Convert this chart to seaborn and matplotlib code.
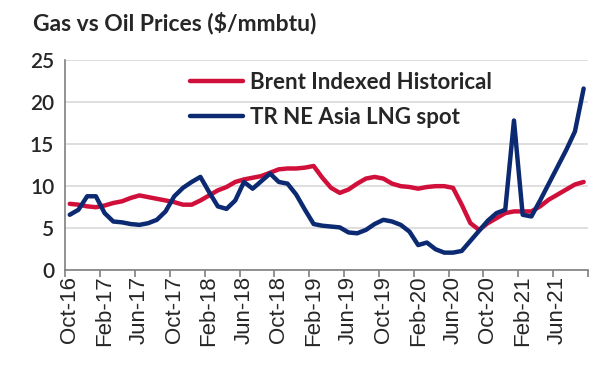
import matplotlib
matplotlib.use("Agg")
import matplotlib.pyplot as plt
import pandas as pd
import seaborn as sns

# monthly values, Oct-16 .. Sep-21
months = pd.date_range("2016-10-01", periods=60, freq="MS")
brent = [7.9, 7.8, 7.6, 7.5, 7.7, 8.0, 8.2, 8.6, 8.9, 8.7, 8.5, 8.3,
         8.1, 7.8, 7.8, 8.3, 8.9, 9.5, 9.9, 10.5, 10.8, 11.0, 11.2, 11.6,
         12.0, 12.1, 12.1, 12.2, 12.4, 11.0, 9.8, 9.2, 9.6, 10.3, 10.9, 11.1,
         10.9, 10.3, 10.0, 9.9, 9.7, 9.9, 10.0, 10.0, 9.8, 7.8, 5.6, 4.8,
         5.6, 6.2, 6.8, 7.0, 7.0, 7.0, 7.6, 8.4, 9.0, 9.6, 10.2, 10.5]
lng = [6.6, 7.2, 8.8, 8.8, 6.8, 5.8, 5.7, 5.5, 5.4, 5.6, 6.0, 7.0,
       8.8, 9.8, 10.5, 11.1, 9.3, 7.6, 7.3, 8.3, 10.5, 9.7, 10.6, 11.5,
       10.5, 10.3, 9.0, 7.2, 5.5, 5.3, 5.2, 5.1, 4.5, 4.4, 4.8, 5.5,
       6.0, 5.8, 5.4, 4.6, 3.0, 3.3, 2.5, 2.1, 2.1, 2.3, 3.5, 4.7,
       5.9, 6.8, 7.2, 17.8, 6.6, 6.4, 8.3, 10.3, 12.3, 14.3, 16.5, 21.6]
series_names = ["Brent Indexed Historical", "TR NE Asia LNG spot"]
colors = ["#d0103a", "#0c2a72"]

df = pd.DataFrame({"pos": [i + 0.5 for i in range(len(months))],
                   series_names[0]: brent, series_names[1]: lng})
long = df.melt(id_vars="pos", var_name="series", value_name="price")

sns.set_style("white")
fig, ax = plt.subplots(figsize=(6, 3.77), dpi=100)
fig.subplots_adjust(left=0.109, right=0.98, bottom=0.283, top=0.841)

sns.lineplot(data=long, x="pos", y="price", hue="series",
             palette=dict(zip(series_names, colors)), linewidth=3.2, ax=ax)

ax.set_xlim(0, 60)
ax.set_ylim(0, 25)
ax.set_yticks(range(0, 26, 5))
ax.yaxis.grid(True, color="#d9d9d9", linewidth=1.2)
ax.set_axisbelow(True)
ax.set_xlabel("")
ax.set_ylabel("")

# tick marks on group boundaries, labels centred on the first month of each group
ax.set_xticks(range(0, 61, 4))
ax.set_xticklabels([])
ax.set_xticks([i + 0.5 for i in range(0, 60, 4)], minor=True)
ax.set_xticklabels([m.strftime("%b-%y") for m in months[::4]], minor=True,
                   rotation=90, fontsize=16, family="Liberation Sans")
ax.tick_params(axis="x", which="major", length=5, width=1.2, color="#7f7f7f", bottom=True)
ax.tick_params(axis="x", which="minor", length=0, pad=4)
ax.tick_params(axis="y", length=0, labelsize=15, pad=8)
for lab in ax.get_yticklabels():
    lab.set_family("Lato")
    lab.set_fontweight("semibold")

for side in ["top", "right"]:
    ax.spines[side].set_visible(False)
for side in ["left", "bottom"]:
    ax.spines[side].set_color("#7f7f7f")
    ax.spines[side].set_linewidth(1.2)

ax.legend(frameon=False, loc="upper left", bbox_to_anchor=(0.2, 1.04),
          handlelength=2.4, labelspacing=0.65, handletextpad=0.3,
          prop={"family": "Lato", "weight": "bold", "size": 16})

fig.text(0.055, 0.94, "Gas vs Oil Prices ($/mmbtu)", fontsize=16.5,
         fontweight="bold", family="Lato", va="center")

plt.savefig("out.png", dpi=100)
